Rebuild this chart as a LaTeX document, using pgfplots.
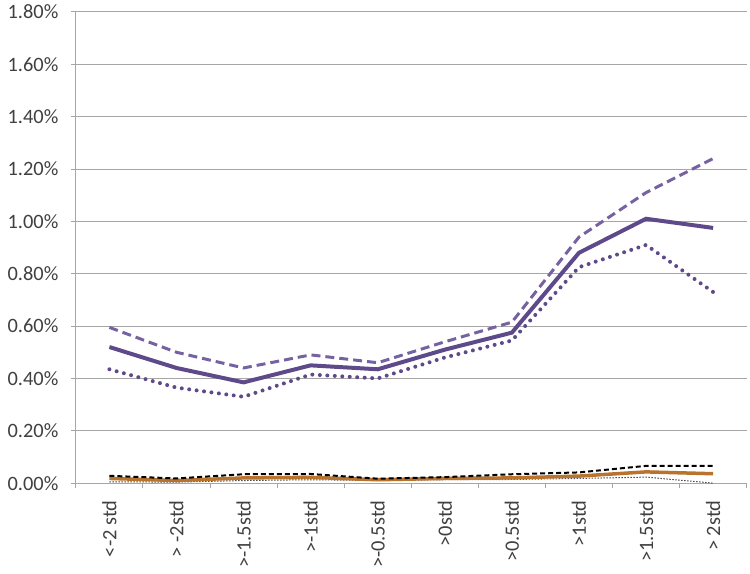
\documentclass[border=0pt]{standalone}
\usepackage{fontspec}
\setmainfont{Carlito}
\usepackage{pgfplots}
\pgfplotsset{compat=1.18}
\definecolor{purp}{HTML}{5E4A8A}
\definecolor{purpl}{HTML}{7662A2}
\definecolor{orng}{HTML}{B8732F}
\definecolor{gridc}{HTML}{A6A6A6}
\definecolor{txt}{HTML}{404040}

\begin{document}
\begin{tikzpicture}
\begin{axis}[
    scale only axis,
    width=672bp, height=472bp,
    xmin=0.5, xmax=10.5,
    ymin=0, ymax=1.8,
    axis x line*=bottom, axis y line*=left,
    axis line style={-, draw=gridc, line width=1bp},
    tick align=outside,
    major tick length=5bp,
    tick style={draw=gridc, line width=1bp},
    xtick={0.5,1.5,2.5,3.5,4.5,5.5,6.5,7.5,8.5,9.5,10.5},
    xticklabels={},
    extra x ticks={1,2,3,4,5,6,7,8,9,10},
    extra x tick labels={{<-2 std},{> -2std},{>-1.5std},{>-1std},{>-0.5std},{>0std},{>0.5std},{>1std},{>1.5std},{> 2std}},
    extra x tick style={major tick length=0pt, grid=none,
        tick label style={rotate=90, anchor=east, xshift=-14bp}},
    ytick={0,0.2,0.4,0.6,0.8,1.0,1.2,1.4,1.6,1.8},
    yticklabels={0.00\%,0.20\%,0.40\%,0.60\%,0.80\%,1.00\%,1.20\%,1.40\%,1.60\%,1.80\%},
    y tick label style={xshift=-9bp},
    ymajorgrids,
    major grid style={draw=gridc, line width=1bp},
    tick label style={font=\fontsize{20.5}{24}\selectfont, text=txt},
]

% near-zero series
\addplot[black!70, line width=1bp, dash pattern=on 1.5bp off 1.5bp] coordinates {
    (1,0.005)(2,0.004)(3,0.010)(4,0.013)(5,0.010)(6,0.013)(7,0.014)(8,0.018)(9,0.023)(10,0.0)
};
\addplot[orng, line width=3.5bp] coordinates {
    (1,0.018)(2,0.010)(3,0.020)(4,0.022)(5,0.013)(6,0.018)(7,0.020)(8,0.027)(9,0.043)(10,0.036)
};
\addplot[black, line width=2bp, dash pattern=on 5bp off 3bp] coordinates {
    (1,0.028)(2,0.018)(3,0.034)(4,0.035)(5,0.017)(6,0.023)(7,0.034)(8,0.041)(9,0.066)(10,0.066)
};

% purple series
\addplot[purpl, line width=3bp, dash pattern=on 9bp off 5bp] coordinates {
    (1,0.595)(2,0.50)(3,0.44)(4,0.49)(5,0.46)(6,0.54)(7,0.615)(8,0.94)(9,1.11)(10,1.24)
};
\addplot[purp, line width=4bp, line cap=round, dash pattern=on 0bp off 7.5bp] coordinates {
    (1,0.435)(2,0.365)(3,0.33)(4,0.415)(5,0.40)(6,0.48)(7,0.545)(8,0.825)(9,0.91)(10,0.73)
};
\addplot[purp, line width=4bp] coordinates {
    (1,0.52)(2,0.44)(3,0.385)(4,0.45)(5,0.435)(6,0.51)(7,0.575)(8,0.88)(9,1.01)(10,0.975)
};

\end{axis}
% page margins as in the reference
\path ([xshift=-76bp,yshift=12bp]current axis.north west) ([xshift=2bp,yshift=-91bp]current axis.south east);
\end{tikzpicture}
\end{document}
